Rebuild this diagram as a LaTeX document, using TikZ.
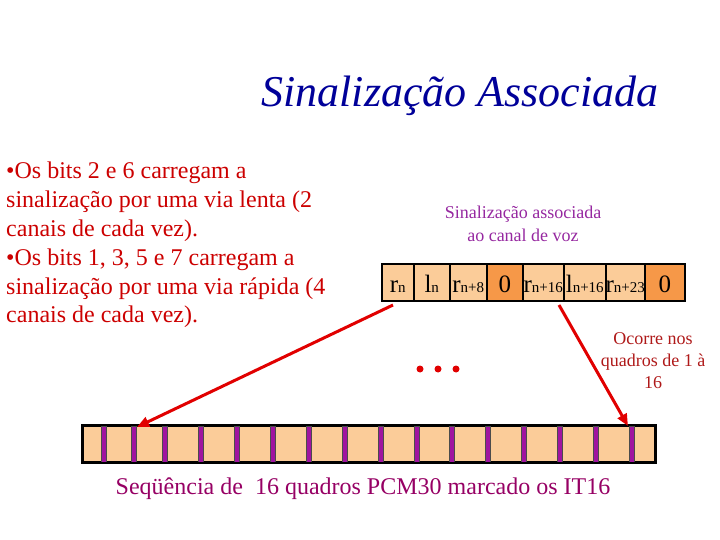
\documentclass[tikz,border=0pt]{standalone}
\usepackage{fontspec}
\setmainfont{Liberation Serif}
\usetikzlibrary{arrows.meta}
\definecolor{titleblue}{RGB}{0,0,153}
\definecolor{bulletred}{RGB}{204,0,0}
\definecolor{peach}{RGB}{251,204,153}
\definecolor{darkorange}{RGB}{246,152,72}
\definecolor{barpurple}{RGB}{160,20,160}
\definecolor{labelpurple}{RGB}{150,40,160}
\definecolor{capmagenta}{RGB}{150,0,100}
\definecolor{notered}{RGB}{175,25,25}
\definecolor{arrowred}{RGB}{225,0,0}
\tikzset{
  cellbox/.style={draw=black, line width=1.5pt, fill=peach, inner sep=0pt, minimum height=37pt, anchor=west},
  zerobox/.style={cellbox, fill=darkorange},
  celltext/.style={font=\fontsize{25}{25}\selectfont, anchor=base, inner sep=0pt},
  bar/.style={draw=black!70, line width=0.6pt, fill=barpurple},
  redarrow/.style={draw=arrowred, line width=3pt, -{Triangle[length=12pt,width=10pt]}},
}
\newcommand{\sm}[1]{{\fontsize{15}{15}\selectfont #1}}
\begin{document}
\begin{tikzpicture}[x=1pt,y=-1pt]
\useasboundingbox (0,0) rectangle (720,540);
% title
\node[font=\fontsize{44}{44}\selectfont\itshape, text=titleblue, anchor=base] (title) at (460,107) {Sinalização Associada};
% left text
\node[anchor=north west, text=bulletred, align=left, inner sep=0pt,
  font=\fontsize{24}{28.8}\selectfont] (bullets) at (6,162)
  {•Os bits 2 e 6 carregam a\\
   sinalização por uma via lenta (2\\
   canais de cada vez).\\
   •Os bits 1, 3, 5 e 7 carregam a\\
   sinalização por uma via rápida (4\\
   canais de cada vez).};
% label
\node[text=labelpurple, align=center, font=\fontsize{18}{23}\selectfont] (lab) at (523,224)
  {Sinalização associada\\ao canal de voz};
% bit cells
\node[cellbox, minimum width=32pt] (c1) at (381,282.5) {};
\node[cellbox, minimum width=36pt] (c2) at (413,282.5) {};
\node[cellbox, minimum width=37pt] (c3) at (449,282.5) {};
\node[zerobox, minimum width=36pt] (c4) at (486,282.5) {};
\node[cellbox, minimum width=41pt] (c5) at (522,282.5) {};
\node[cellbox, minimum width=42pt] (c6) at (563,282.5) {};
\node[cellbox, minimum width=39pt] (c7) at (605,282.5) {};
\node[zerobox, minimum width=40pt] (c8) at (644,282.5) {};
\node[celltext] (t1) at (c1 |- 0,292) {r\sm{n}};
\node[celltext] (t2) at (c2 |- 0,292) {l\sm{n}};
\node[celltext] (t3) at (c3 |- 0,292) {r\sm{n+8}};
\node[celltext] (t4) at (c4 |- 0,292) {0};
\node[celltext] (t5) at (c5 |- 0,292) {r\sm{n+16}};
\node[celltext] (t6) at (c6 |- 0,292) {l\sm{n+16}};
\node[celltext] (t7) at (c7 |- 0,292) {r\sm{n+23}};
\node[celltext] (t8) at (c8 |- 0,292) {0};
% dots
\foreach \x/\n in {420/d1,438/d2,456/d3}
  \node[circle, fill=arrowred, inner sep=0pt, minimum size=7pt] (\n) at (\x,369) {};
% note
\node[text=notered, align=center, font=\fontsize{18}{22}\selectfont] (note) at (653,361)
  {Ocorre nos\\quadros de 1 à\\16};
% strip
\node[draw=black, line width=2pt, fill=peach, inner sep=0pt, minimum width=572pt, minimum height=36pt, anchor=west] (strip) at (82,444) {};
\foreach \x in {104,134,165,201,237,273,309,345,381,417,452,488,524,560,596,632}
  \draw[bar] (\x-2.5,426) rectangle (\x+2.5,462);
\draw[black, line width=2pt] (strip.north west) rectangle (strip.south east);
% caption
\node[text=capmagenta, font=\fontsize{24}{24}\selectfont] (cap) at (363,489)
  {Seqüência de\ \ 16 quadros PCM30 marcado os IT16};
% arrows
\coordinate (la) at (393,305);
\coordinate (lt) at (137,427);
\coordinate (ra) at (559,305);
\coordinate (rt) at (628,426);
\draw[redarrow] (la) -- (lt);
\draw[redarrow] (ra) -- (rt);
\end{tikzpicture}
\end{document}
